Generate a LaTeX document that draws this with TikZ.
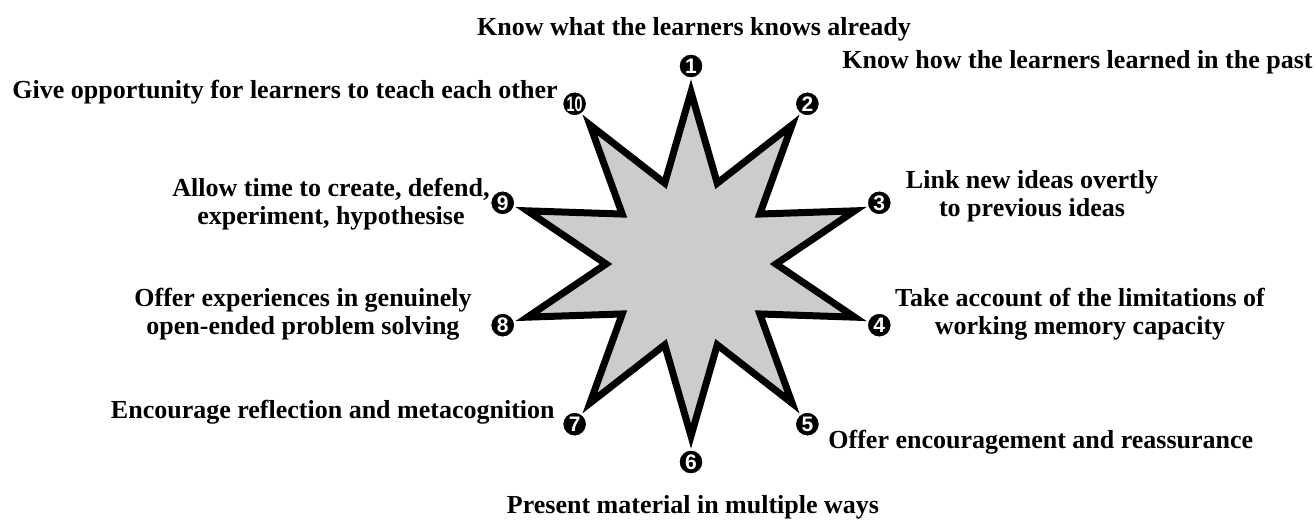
\documentclass[tikz,border=0pt]{standalone}
\usepackage{fontspec}
\setmainfont{Liberation Serif}
\newfontfamily\numfont{Liberation Sans}
\usepackage{graphicx}
\usepackage{tikz}

\begin{document}
\begin{tikzpicture}[x=0.5pt, y=-0.5pt,
    starline/.style={line width=3.5pt, line join=miter, fill=black!20, draw=black},
    tipnum/.style={circle, fill=black, draw=white, line width=0.6pt, inner sep=0pt,
        minimum size=12pt, text=white, font=\numfont\bfseries\fontsize{10.5}{10.5}\selectfont},
    tiplabel/.style={font=\bfseries\fontsize{13}{14}\selectfont, inner sep=0pt, align=center}]
    \useasboundingbox (0,0) rectangle (1316,524);

    % stella a dieci punte
    \begin{scope}[shift={(691,264)}]
        \draw[starline] (-90:172)
            \foreach \i in {0,...,8} { -- (\i*36-72:85) -- (\i*36-54:172) }
            -- (252:85) -- cycle;
        % numeri sulle punte
        \foreach \i in {1,...,9}
            \node[tipnum] (n\i) at (\i*36-126:198) {\i};
        \node[tipnum] (n10) at (234:198) {\scalebox{0.68}[1]{10}};
    \end{scope}

    % testi
    \node[tiplabel, anchor=base] (t1) at (694,36) {Know what the learners knows already};
    \node[tiplabel, anchor=base west] (t2) at (842,69) {Know how the learners learned in the past};
    \node[tiplabel, anchor=base] (t3) at (1032,216) {Link new ideas overtly\\to previous ideas};
    \node[tiplabel, anchor=base] (t4) at (1080,334) {Take account of the limitations of\\working memory capacity};
    \node[tiplabel, anchor=base west] (t5) at (828,448) {Offer encouragement and reassurance};
    \node[tiplabel, anchor=base] (t6) at (693,513) {Present material in multiple ways};
    \node[tiplabel, anchor=base east] (t7) at (555,418) {Encourage reflection and metacognition};
    \node[tiplabel, anchor=base] (t8) at (303,334) {Offer experiences in genuinely\\open-ended problem solving};
    \node[tiplabel, anchor=base] (t9) at (331,224) {Allow time to create, defend,\\experiment, hypothesise};
    \node[tiplabel, anchor=base west] (t10) at (12,98) {Give opportunity for learners to teach each other};
\end{tikzpicture}
\end{document}
